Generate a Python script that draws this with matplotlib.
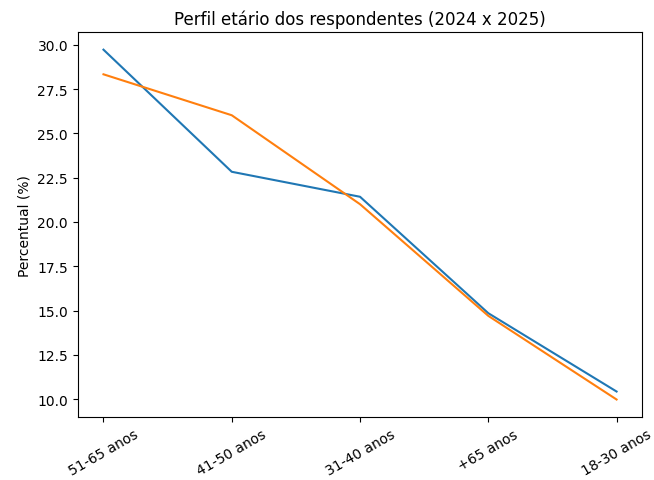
import matplotlib
matplotlib.use("Agg")
import matplotlib.pyplot as plt

# =========================
# DATA
# =========================

faixas = ["51-65 anos", "41-50 anos", "31-40 anos", "+65 anos", "18-30 anos"]

perc_2024 = [29.72, 22.83, 21.42, 14.85, 10.43]
perc_2025 = [28.33, 26.02, 21.0, 14.70, 9.98]

# =========================
# PLOT
# =========================

fig = plt.figure(figsize=(6.54, 4.81), dpi=100)
ax = fig.add_axes([0.119, 0.131, 0.863, 0.8])

ax.plot(faixas, perc_2024)
ax.plot(faixas, perc_2025)

ax.set_title("Perfil etário dos respondentes (2024 x 2025)")
ax.set_ylabel("Percentual (%)")
plt.setp(ax.get_xticklabels(), rotation=30)

fig.savefig("out.png", dpi=100)
